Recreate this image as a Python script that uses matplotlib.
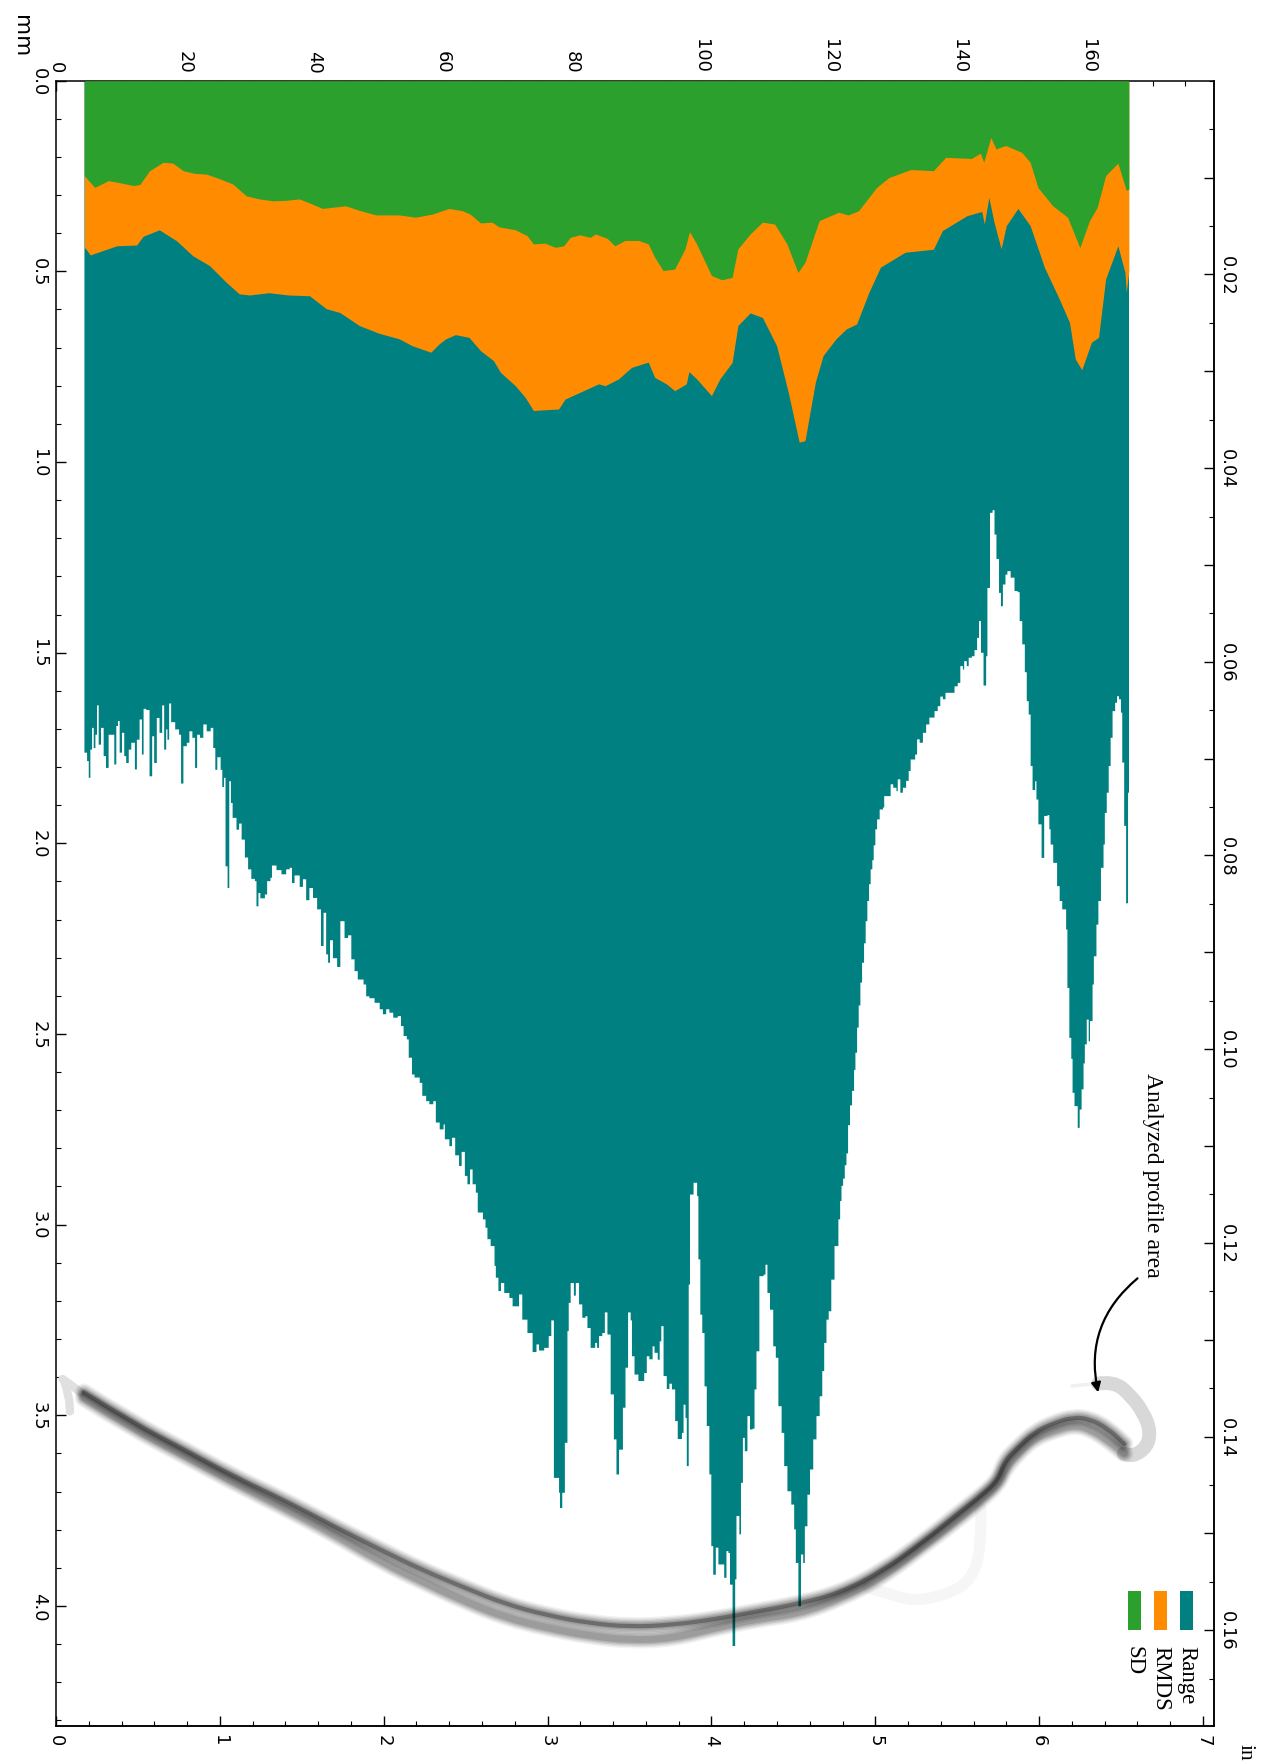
#Rotated profile chart: SD, RMDS and Range per position, with the tool profile on top

import matplotlib
matplotlib.use("Agg")
import matplotlib.pyplot as plt
from matplotlib.patches import PathPatch, Rectangle
from matplotlib.path import Path
from matplotlib.ticker import MultipleLocator

#DATA, position in mm, depth in mm
sd_x=[4.4,4.7,6,8.1,10,12,13,14.5,16.6,18.1,19.7,21.5,23.3,25.5,27.4,29.5,31.5,33.6,35.5,37.7,39.5,41.3,44.9,47,49.6,53.2,55.7,58.3,60.9,63,64.2,65.8,67.6,68.6,71.2,73,74,75.8,77.4,78.7,79.7,81.2,82.8,83.6,85.4,86.6,88.2,90.3,91.8,92.8,94.1,95.9,97.5,98.2,99.3,101.6,103.2,104.8,105.7,107.6,109.5,111.4,113.3,115,116.1,118.3,121.3,122.8,124.4,127.2,129.1,132.5,136,137.9,141.9,143.3,143.8,144.9,145.7,147.2,149.7,151,152.2,154.5,156.8,158.7,160.2,161.4,162.7,164.6,165.9,166.3]
sd_y=[.249,.255,.28,.262,.268,.275,.272,.236,.214,.216,.236,.243,.245,.258,.271,.302,.31,.315,.314,.31,.322,.335,.328,.34,.352,.352,.358,.350,.335,.341,.35,.373,.371,.383,.391,.406,.428,.426,.437,.433,.411,.404,.411,.402,.413,.433,.419,.419,.428,.463,.498,.494,.441,.396,.428,.511,.522,.516,.441,.402,.371,.376,.428,.503,.476,.367,.345,.352,.341,.280,.254,.233,.236,.201,.204,.190,.214,.149,.179,.170,.188,.214,.280,.328,.358,.438,.367,.332,.249,.216,.288,.284]

rmds_x=[4.4,4.8,5.3,9.4,12.5,13.5,16,18.7,21.2,23.8,26.4,28.4,30,33,36,39.3,41.9,44,47,50,53.2,55.2,58.1,59.4,60.4,61.9,64,65.8,67.8,68.9,71.2,72.7,74,75.8,77.9,78.9,81.5,84.1,85.1,87.2,89.2,91.8,92.8,94.6,95.9,97.7,98.1,99.3,101.6,102.9,104.8,105.7,107.6,109.5,111.7,113.5,115.2,116.1,117.7,118.9,120.9,122.5,124.1,126,127.8,131.6,136,137.4,141.2,143.5,143.9,144.6,145.4,146.5,147.3,149.1,151,153.2,155.5,157.1,158,159,160.5,161.6,162.7,164.6,165.7,165.9,166.3]
rmds_y=[.437,.445,.457,.433,.431,.408,.391,.42,.459,.485,.529,.559,.562,.556,.562,.564,.598,.608,.642,.662,.677,.695,.712,.690,.677,.666,.673,.708,.734,.765,.80,.830,.865,.863,.861,.835,.815,.795,.80,.782,.752,.738,.778,.795,.813,.795,.763,.782,.826,.782,.739,.642,.609,.621,.695,.817,.948,.944,.791,.721,.677,.651,.638,.555,.489,.450,.442,.393,.354,.343,.376,.306,.371,.441,.380,.335,.380,.489,.572,.634,.730,.758,.686,.673,.520,.433,.503,.555,.498]

range_x=[4.33,4.74,5.0,5.25,5.51,5.77,6.03,6.28,6.54,6.9,7.31,7.67,8.08,8.6,8.96,9.27,9.53,9.79,10.15,10.5,10.8,11.2,11.59,12.15,12.46,12.88,13.24,13.5,13.9,14.42,14.83,15.14,15.55,15.97,16.38,16.69,17,17.2,17.46,17.77,18.4,19,19.31,19.67,20.2,20.6,21.06,21.48,21.8,22.25,22.76,23.28,23.9,24.3,24.62,24.93,25.44,25.7,25.96,26.2,26.52,26.78,27.04,27.3,27.9,28.3,28.7,29.2,29.7,30.2,30.75,31,31.3,31.6,32.3,32.65,33.17,33.4,34.1,34.87,35.6,36.15,36.5,36.9,37.7,38.2,38.7,39.2,39.76,40.4,41,41.4,41.8,42.1,42.4,42.85,43.5,44,44.65,45.2,45.7,46.2,46.7,47.6,48,48.5,49.3,50.1,50.6,51.1,51.6,52.2,52.9,53.4,53.8,54.3,54.6,55.1,55.5,56.3,56.7,57.3,57.8,58.4,58.8,59.4,60,60.2,60.9,61.3,61.8,62.4,62.8,63.3,63.7,64.1,64.5,65,65.3,66.1,66.5,66.8,67.3,67.9,68.1,68.5,68.9,69.4,70.2,70.7,71.5,71.7,72.2,73,73.8,74.4,74.8,75.6,76.3,76.7,77.1,77.9,78.05,78.4,78.8,79.2,79.4,79.7,80.2,80.5,81,81.5,82,82.3,82.8,83.5,83.8,84.1,84.6,85,85.4,85.9,86.4,86.8,87.2,87.8,88.2,88.6,89,89.2,89.6,90.2,91.1,91.5,91.9,92.4,92.7,93.2,93.5,93.75,94.1,94.6,95,95.4,95.9,96.3,96.95,97.2,97.5,97.7,98,98.2,98.75,99.3,99.5,99.8,100.1,100.45,100.8,101.2,101.5,101.8,102.2,102.6,103,103.5,103.85,104.15,104.4,104.8,105.2,105.4,105.85,106.1,106.4,106.7,107.1,107.5,107.9,108.2,108.5,108.95,109.6,109.9,110.2,110.6,111.1,111.5,111.9,112.4,112.8,113.3,113.9,114.35,114.6,115,115.4,115.75,116,116.4,116.8,117.3,117.8,118.3,118.7,119,119.35,119.7,120.1,120.6,121.2,121.47,121.68,121.93,122.19,122.45,122.7,123.0,123.32,123.63,123.84,124.1,124.35,124.61,124.87,125.18,125.43,125.69,125.95,126.2,126.46,126.67,126.93,127.2,127.6,128.1,128.3,128.9,129.3,129.7,130.2,130.4,130.8,131.2,131.7,132.1,132.4,133.1,133.4,133.8,134.3,134.8,135.3,136.1,136.6,137,137.4,137.8,138.7,139.2,139.7,140.1,140.5,140.7,141.1,141.4,141.9,142.3,142.7,143,143.3,143.7,144.1,144.3,144.7,145.1,145.4,145.7,146.1,146.4,146.7,147.1,147.4,147.9,148.5,149,149.3,149.7,150.1,150.4,150.7,151,151.3,151.7,151.9,152.2,152.7,153.1,153.6,153.9,154.1,154.5,155.1,155.5,155.9,156.5,156.7,157,157.3,157.5,157.8,158.3,158.6,158.9,159.2,159.4,159.7,160,160.2,160.6,160.8,161.2,161.5,161.9,162.3,162.5,162.8,163.1,163.4,163.7,164.1,164.4,164.7,165,165.2,165.5,165.8,166.1,166.25]
range_y=[1.761,1.783,1.827,1.753,1.696,1.749,1.714,1.637,1.740,1.696,1.770,1.801,1.714,1.714,1.792,1.691,1.678,1.761,1.709,1.770,1.788,1.753,1.735,1.805,1.727,1.674,1.766,1.646,1.649,1.823,1.718,1.788,1.670,1.709,1.637,1.753,1.700,1.727,1.632,1.681,1.700,1.714,1.842,1.744,1.735,1.705,1.722,1.801,1.714,1.722,1.687,1.705,1.696,1.749,1.806,1.773,1.806,1.851,1.827,2.059,2.116,1.836,1.893,1.932,1.963,1.947,1.989,2.036,2.067,2.092,2.098,2.164,2.129,2.143,2.133,2.098,2.089,2.057,2.069,2.080,2.067,2.063,2.103,2.083,2.113,2.093,2.148,2.116,2.142,2.172,2.268,2.181,2.290,2.312,2.253,2.300,2.323,2.203,2.247,2.240,2.303,2.334,2.356,2.369,2.400,2.405,2.417,2.434,2.447,2.434,2.443,2.456,2.452,2.478,2.504,2.513,2.561,2.605,2.613,2.627,2.661,2.675,2.683,2.675,2.731,2.749,2.736,2.775,2.793,2.771,2.817,2.845,2.808,2.871,2.893,2.854,2.893,2.915,2.967,2.985,3.007,3.037,3.055,3.107,3.138,3.173,3.152,3.178,3.191,3.213,3.213,3.182,3.248,3.283,3.333,3.313,3.329,3.322,3.291,3.250,3.663,3.702,3.742,3.702,3.571,3.278,3.204,3.152,3.185,3.152,3.208,3.243,3.239,3.27,3.322,3.309,3.322,3.291,3.283,3.229,3.287,3.444,3.562,3.654,3.589,3.479,3.374,3.229,3.25,3.344,3.392,3.409,3.388,3.344,3.352,3.318,3.335,3.353,3.305,3.265,3.396,3.430,3.416,3.431,3.514,3.561,3.545,3.471,3.506,3.632,3.156,2.920,2.889,2.924,3.090,3.235,3.283,3.423,3.527,3.654,3.842,3.917,3.846,3.890,3.890,3.925,3.855,3.860,3.943,4.104,3.929,3.763,3.811,3.676,3.558,3.593,3.501,3.536,3.534,3.431,3.331,3.134,3.130,3.104,3.178,3.222,3.318,3.348,3.475,3.545,3.632,3.698,3.733,3.798,3.886,4.0,3.864,3.886,3.790,3.707,3.641,3.562,3.501,3.449,3.383,3.309,3.248,3.226,3.143,3.055,2.985,2.937,2.897,2.878,2.843,2.812,2.738,2.686,2.648,2.593,2.548,2.482,2.424,2.364,2.312,2.261,2.203,2.15,2.106,2.067,2.043,2.004,1.962,1.936,1.910,1.905,1.875,1.875,1.844,1.853,1.862,1.831,1.866,1.853,1.835,1.809,1.779,1.766,1.726,1.735,1.709,1.687,1.669,1.652,1.639,1.614,1.621,1.604,1.604,1.587,1.578,1.534,1.543,1.521,1.534,1.512,1.508,1.492,1.460,1.416,1.499,1.585,1.508,1.329,1.132,1.125,1.189,1.253,1.342,1.377,1.320,1.294,1.285,1.302,1.337,1.340,1.416,1.477,1.550,1.626,1.661,1.796,1.859,1.836,1.884,1.949,2.037,1.927,1.925,1.962,2.002,2.05,2.111,2.15,2.172,2.225,2.378,2.509,2.564,2.653,2.688,2.745,2.697,2.644,2.576,2.526,2.461,2.518,2.465,2.369,2.295,2.212,2.150,2.063,2.002,1.919,1.866,1.796,1.722,1.652,1.630,1.613,1.621,1.656,1.787,1.953,2.156,1.866,1.866]

#tool profile, position in inches, depth in mm
strand_a_x=[.17,.47,.78,1.08,1.38,1.69,1.99,2.23,2.48,2.74,3,3.25,3.5,3.76,4.02,4.27,4.53,4.79,5.04,5.3,5.5,5.65,5.75,5.79,5.87,5.97,6.09,6.21,6.31,6.42,6.52]
strand_a_y=[3.44,3.52,3.59,3.66,3.72,3.79,3.855,3.905,3.95,3.995,4.025,4.045,4.055,4.05,4.035,4.015,3.995,3.965,3.91,3.83,3.76,3.71,3.67,3.62,3.585,3.545,3.52,3.505,3.51,3.535,3.575]
strand_b_y=[3.455,3.535,3.605,3.675,3.74,3.81,3.885,3.935,3.985,4.03,4.058,4.078,4.09,4.085,4.058,4.035,4.02,3.98,3.925,3.84,3.775,3.72,3.68,3.64,3.60,3.56,3.54,3.525,3.535,3.565,3.60]
hook_x=[6.36,6.455,6.557,6.638,6.679,6.658,6.577,6.516]
hook_y=[3.417,3.411,3.447,3.494,3.542,3.583,3.607,3.601]
tail_x=[6.2,6.28,6.36]
tail_y=[3.423,3.42,3.417]
start_x=[.04,.09,.15]
start_y=[3.405,3.42,3.44]
start2_x=[.05,.08,.085]
start2_y=[3.41,3.45,3.49]
loop_x=[5.644,5.648,5.583,5.44,5.238,5.096,4.954]
loop_y=[3.744,3.851,3.934,3.97,3.988,3.97,3.952]

#legend
legend_names=["Range","RMDS","SD"]
legend_colors=["#008080","#ff8c00","#2ca02c"]
legend_in=[6.9,6.74,6.58]

top_labels=[0,20,40,60,80,100,120,140,160]
left_labels=[0.0,0.5,1.0,1.5,2.0,2.5,3.0,3.5,4.0]
bottom_labels=[0,1,2,3,4,5,6,7]
right_major=[0.01,0.02,0.03,0.04,0.05,0.06,0.07,0.08,0.09,0.10,0.11,0.12,0.13,0.14,0.15,0.16]

fig=plt.figure(figsize=(12.63,17.65),dpi=100)
ax=fig.add_axes([56/1263,1-1727/1765,(1214-56)/1263,(1727-81.7)/1765])

ax.fill_between(range_x,0,range_y,step="post",color="#008080",lw=0,zorder=1)
ax.fill_between(rmds_x,0,rmds_y,color="#ff8c00",lw=0,zorder=2)
ax.fill_between(sd_x,0,sd_y,color="#2ca02c",lw=0,zorder=3)

#PROFILE, the read points steer a smooth curve
def profile(xs,ys,**style):
    pts=[(x*25.4,y) for x,y in zip(xs,ys)]
    verts=[pts[0]]
    codes=[Path.MOVETO]
    for a,b in zip(pts[1:-1],pts[2:]):
        verts+=[a,((a[0]+b[0])/2,(a[1]+b[1])/2)]
        codes+=[Path.CURVE3,Path.CURVE3]
    verts+=[pts[-1]]
    codes+=[Path.LINETO]
    ax.add_patch(PathPatch(Path(verts,codes),fill=False,capstyle="round",**style))

profile(loop_x,loop_y,edgecolor="#f6f6f6",lw=8,zorder=4)
profile(tail_x,tail_y,edgecolor="#f0f0f0",lw=2.5,zorder=4)
profile(hook_x,hook_y,edgecolor="#d8d8d8",lw=10,zorder=4)
profile(start_x,start_y,edgecolor="#e0e0e0",lw=6,zorder=4)
profile(start2_x,start2_y,edgecolor="#e0e0e0",lw=6,zorder=4)
for width,alpha in [(13,.05),(11,.07),(9,.09),(7,.11),(5,.13)]:
    profile(strand_a_x,strand_a_y,edgecolor="black",lw=width,alpha=alpha,zorder=5)
    profile(strand_a_x,strand_b_y,edgecolor="black",lw=width,alpha=alpha,zorder=5)
profile(strand_a_x,strand_a_y,edgecolor="black",lw=3,alpha=.3,zorder=5)

ax.set_xlim(0,179.5)
ax.set_ylim(4.315,0)

#AXES, every label turned a quarter clockwise like the scanned page
ax.xaxis.tick_top()
ax.set_xticks(top_labels)
ax.xaxis.set_minor_locator(MultipleLocator(5))
ax.set_yticks(left_labels)
ax.set_yticklabels([f"{v:.1f}" for v in left_labels])
ax.yaxis.set_minor_locator(MultipleLocator(0.1))
ax.tick_params(axis="x",which="major",direction="in",length=7.2,width=1,labelsize=13,rotation=-90,pad=6)
ax.tick_params(axis="y",which="major",direction="in",length=7.2,width=1,labelsize=13,rotation=-90,pad=6)
ax.tick_params(which="minor",direction="in",length=3.6,width=.8)
for t in ax.get_yticklabels():
    t.set_va("center")

bottom=ax.secondary_xaxis("bottom",functions=(lambda v:v/25.4,lambda v:v*25.4))
bottom.set_xticks(bottom_labels)
bottom.xaxis.set_minor_locator(MultipleLocator(0.2))
bottom.tick_params(which="major",direction="in",length=7.2,width=1,labelsize=13,rotation=-90,pad=6)
bottom.tick_params(which="minor",direction="in",length=3.6,width=.8)

right=ax.secondary_yaxis("right",functions=(lambda v:v/25.4,lambda v:v*25.4))
right.set_yticks(right_major)
right.set_yticklabels([f"{v:.2f}" if i%2==1 else "" for i,v in enumerate(right_major)])
right.yaxis.set_minor_locator(MultipleLocator(0.005))
right.tick_params(which="major",direction="in",length=7.2,width=1,labelsize=13,rotation=-90,pad=3)
right.tick_params(which="minor",direction="in",length=3.6,width=.8)
for t in right.get_yticklabels():
    t.set_va("center")

for s in list(ax.spines.values())+list(bottom.spines.values())+list(right.spines.values()):
    s.set_linewidth(1.1)

fig.text(21/1263,1-36/1765,"mm",rotation=-90,fontsize=15.5,ha="center",va="center")
fig.text(1245/1263,1-1752/1765,"in",rotation=-90,fontsize=15.5,family="Liberation Serif",ha="center",va="center")

#ANNOTATION
ax.text(6.69*25.4,2.60,"Analyzed profile area",rotation=-90,fontsize=17,family="Liberation Serif",ha="center",va="top")
ax.annotate("",xy=(6.36*25.4,3.44),xytext=(6.60*25.4,3.141),
            arrowprops=dict(arrowstyle="-|>",color="black",lw=1.6,connectionstyle="arc3,rad=0.3",shrinkA=0,shrinkB=0,mutation_scale=14),zorder=6)

#LEGEND
for name,color,pos in zip(legend_names,legend_colors,legend_in):
    ax.add_patch(Rectangle(((pos-.04)*25.4,3.962),.08*25.4,.1,color=color,lw=0,zorder=6))
    ax.text(pos*25.4,4.103,name,rotation=-90,fontsize=16.5,family="Liberation Serif",ha="center",va="top")

fig.savefig("out.png",dpi=100)
